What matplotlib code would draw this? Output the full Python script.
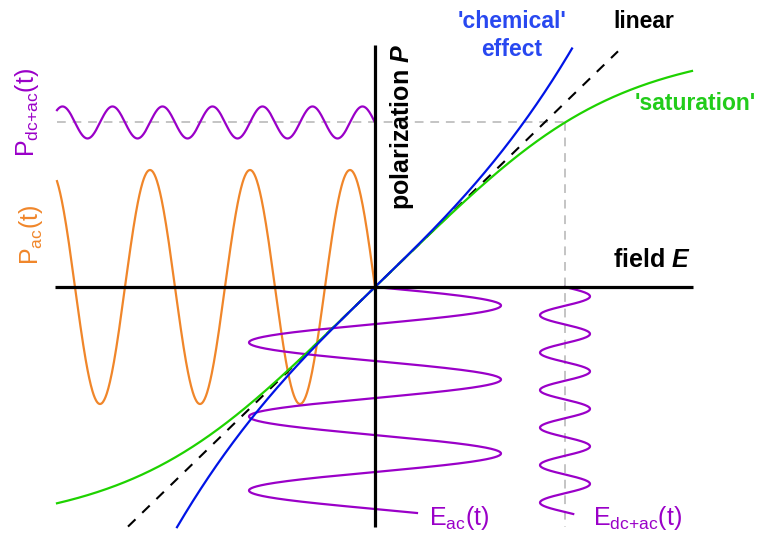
import numpy as np
import matplotlib
matplotlib.use("Agg")
import matplotlib.pyplot as plt

plt.rcParams["font.family"] = ["Liberation Sans", "DejaVu Sans"]
plt.rcParams["mathtext.fontset"] = "custom"
plt.rcParams["mathtext.rm"] = "Liberation Sans"
plt.rcParams["mathtext.it"] = "Liberation Sans:italic"
plt.rcParams["mathtext.bf"] = "Liberation Sans:bold"
plt.rcParams["mathtext.bfit"] = "Liberation Sans:bold:italic"

# --- response curves P(E) (field / polarization in drawing units) ---
chi = 0.97            # linear susceptibility (slope of the dashed line)
beta = 6.2e-6         # cubic 'chemical' enhancement coefficient
p_sat = 249.0         # saturation polarization
knee = 3.0            # sharpness of the saturation knee
e_lin = [-247, 243]   # field range of the linear line
e_chem = [-198, 197]  # field range of the 'chemical' curve
e_satr = [-318, 317]  # field range of the 'saturation' curve

# --- driving / response signals ---
e_ac_amp, e_ac_period, e_ac_tmax = 126.0, 74.0, 226.0
p_ac_amp, p_ac_period, p_ac_tmax = 117.0, 100.0, 318.0
e_dc = 190.0
e_dcac_amp, e_dcac_period, e_dcac_tmax = 25.0, 37.5, 227.0
p_dcac_amp, p_dcac_period, p_dcac_tmax = 16.0, 50.0, 318.0

# axis extents
e_axis = [-320, 318]
p_axis = [-240, 242]

PURPLE = "#9a00c8"
ORANGE = "#f0862a"
GREEN = "#1ed200"
BLUE = "#0014e6"


def linear(e):
    return chi * e


def chemical(e):
    return chi * e + beta * e ** 3


def saturation(e):
    u = chi * e
    return u / (1.0 + np.abs(u / p_sat) ** knee) ** (1.0 / knee)


p_dc = float(saturation(e_dc))

fig = plt.figure(figsize=(7.58, 5.38), dpi=100)
ax = fig.add_axes([0, 0, 1, 1])
ax.set_xlim(-375, 383)
ax.set_ylim(-251, 287)
ax.axis("off")

# axes of the diagram
ax.plot(e_axis, [0, 0], color="black", lw=2.3, solid_capstyle="butt", zorder=5)
ax.plot([0, 0], p_axis, color="black", lw=2.3, solid_capstyle="butt", zorder=5)

# operating-point guides
ax.plot([-318, e_dc], [p_dc, p_dc], color="#c4c4c4", lw=1.4,
        dashes=(4.5, 3.5), zorder=1)
ax.plot([e_dc, e_dc], [p_dc, p_axis[0]], color="#c4c4c4", lw=1.4,
        dashes=(4.5, 3.5), zorder=1)

# response curves
e = np.linspace(*e_lin, 400)
ax.plot(e, linear(e), color="black", lw=1.5, dashes=(5, 4.5), zorder=3)
e = np.linspace(*e_satr, 600)
ax.plot(e, saturation(e), color=GREEN, lw=1.6, zorder=3)
e = np.linspace(*e_chem, 600)
ax.plot(e, chemical(e), color=BLUE, lw=1.6, zorder=4)

# P_ac(t): time runs to the left
t = np.linspace(0, p_ac_tmax, 800)
ax.plot(-t, p_ac_amp * np.sin(2 * np.pi * t / p_ac_period), color=ORANGE,
        lw=1.6, zorder=2)

# P_dc+ac(t)
t = np.linspace(0, p_dcac_tmax, 800)
ax.plot(-t, p_dc + p_dcac_amp * np.sin(2 * np.pi * t / p_dcac_period),
        color=PURPLE, lw=1.6, zorder=2)

# E_ac(t): time runs downward
t = np.linspace(0, e_ac_tmax, 800)
ax.plot(e_ac_amp * np.sin(2 * np.pi * t / e_ac_period), -t, color=PURPLE,
        lw=1.6, zorder=2)

# E_dc+ac(t)
t = np.linspace(0, e_dcac_tmax, 800)
ax.plot(e_dc + e_dcac_amp * np.sin(2 * np.pi * t / e_dcac_period), -t,
        color=PURPLE, lw=1.6, zorder=2)

# labels
ax.text(27, 160, r"polarization $\mathbfit{P}$", rotation=90, ha="center",
        va="center", fontsize=18, fontweight="bold")
ax.text(316, 27, r"field $\mathbfit{E}$", ha="right", va="center",
        fontsize=18, fontweight="bold")
ax.text(238, 265, "linear", ha="left", va="center", fontsize=16.5,
        fontweight="bold")
ax.text(137, 265, "'chemical'", ha="center", va="center", fontsize=16.5,
        fontweight="bold", color="#2848f0")
ax.text(137, 237, "effect", ha="center", va="center", fontsize=16.5,
        fontweight="bold", color="#2848f0")
ax.text(260, 183, "'saturation'", ha="left", va="center", fontsize=16.5,
        fontweight="bold", color="#22cc1a")
ax.text(54, -238, r"E$_{\mathrm{ac}}$(t)", ha="left", va="baseline",
        fontsize=18, color=PURPLE)
ax.text(218, -238, r"E$_{\mathrm{dc{+}ac}}$(t)", ha="left", va="baseline",
        fontsize=18, color=PURPLE)
ax.text(-348, 174, r"P$_{\mathrm{dc{+}ac}}$(t)", rotation=90, ha="center",
        va="center", fontsize=18, color=PURPLE)
ax.text(-344, 52, r"P$_{\mathrm{ac}}$(t)", rotation=90, ha="center",
        va="center", fontsize=18, color=ORANGE)

fig.savefig("out.png", dpi=100)
